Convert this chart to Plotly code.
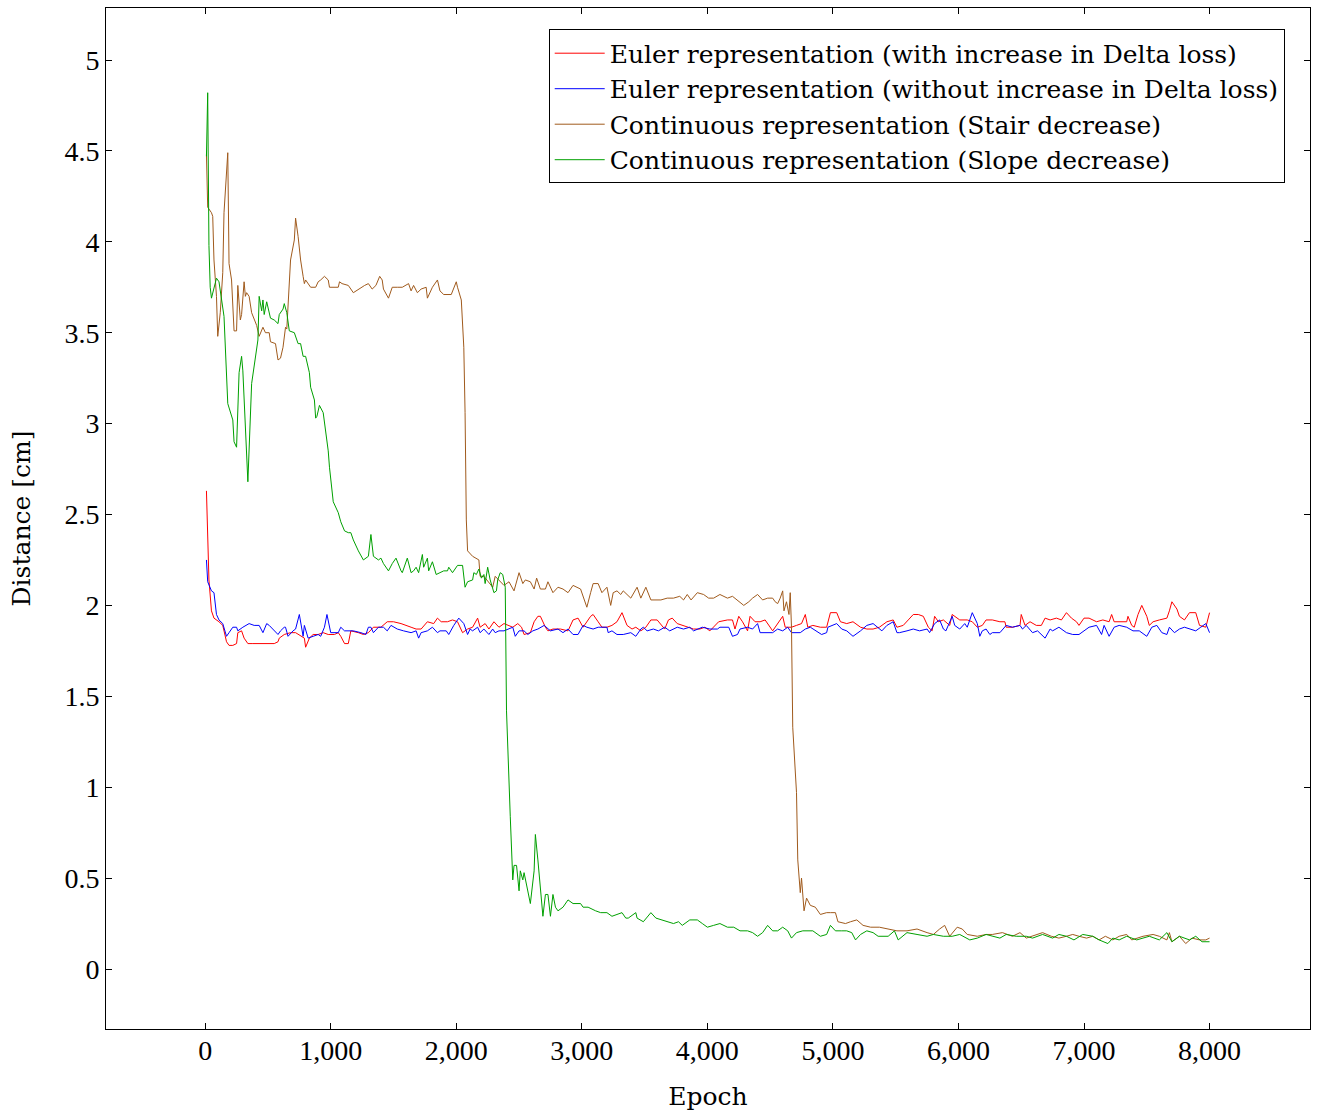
import plotly.graph_objects as go

# ---------------- data ----------------
green_x = [10, 20, 30, 40, 50, 90, 110, 140, 150, 180, 220, 230, 250, 270, 290, 300, 340, 370, 420, 430, 450, 460, 470, 490, 520, 550, 580, 590, 620, 630, 650, 670, 710, 740, 760, 780, 800, 830, 840, 870, 880, 890, 910, 940, 980, 990, 1020, 1060, 1080, 1110, 1140, 1160, 1180, 1220, 1260, 1300, 1310, 1320, 1340, 1380, 1400, 1420, 1460, 1490, 1520, 1530, 1560, 1570, 1610, 1640, 1660, 1680, 1700, 1730, 1740, 1770, 1780, 1810, 1840, 1870, 1900, 1930, 1940, 1970, 2010, 2050, 2070, 2090, 2130, 2140, 2160, 2180, 2200, 2220, 2230, 2250, 2270, 2300, 2320, 2330, 2350, 2370, 2380, 2390, 2400, 2420, 2430, 2450, 2460, 2480, 2500, 2510, 2530, 2540, 2590, 2620, 2630, 2650, 2690, 2710, 2730, 2750, 2770, 2790, 2810, 2850, 2890, 2930, 2990, 3010, 3050, 3110, 3150, 3200, 3240, 3280, 3320, 3350, 3370, 3430, 3440, 3490, 3550, 3590, 3640, 3690, 3730, 3770, 3800, 3860, 3920, 3960, 4000, 4050, 4100, 4160, 4210, 4260, 4320, 4360, 4400, 4440, 4480, 4520, 4560, 4600, 4640, 4670, 4710, 4760, 4800, 4840, 4900, 4950, 4980, 5020, 5070, 5110, 5150, 5180, 5220, 5270, 5320, 5360, 5440, 5490, 5520, 5590, 5670, 5750, 5800, 5880, 5950, 6010, 6090, 6150, 6220, 6270, 6330, 6380, 6460, 6540, 6590, 6670, 6750, 6800, 6860, 6920, 6990, 7070, 7120, 7190, 7230, 7280, 7340, 7420, 7470, 7520, 7600, 7660, 7700, 7760, 7840, 7890, 7940, 8000]
green_y = [4.47, 4.82, 3.98, 3.75, 3.69, 3.80, 3.78, 3.64, 3.59, 3.11, 3.02, 2.90, 2.87, 3.28, 3.37, 3.29, 2.68, 3.22, 3.46, 3.70, 3.62, 3.68, 3.60, 3.67, 3.58, 3.57, 3.55, 3.60, 3.63, 3.66, 3.61, 3.51, 3.50, 3.44, 3.44, 3.37, 3.37, 3.28, 3.20, 3.13, 3.03, 3.04, 3.10, 3.06, 2.85, 2.76, 2.57, 2.51, 2.46, 2.41, 2.40, 2.40, 2.36, 2.30, 2.25, 2.27, 2.34, 2.39, 2.27, 2.25, 2.26, 2.23, 2.19, 2.23, 2.26, 2.24, 2.19, 2.18, 2.26, 2.18, 2.19, 2.21, 2.18, 2.28, 2.21, 2.26, 2.19, 2.24, 2.17, 2.18, 2.19, 2.19, 2.21, 2.18, 2.22, 2.22, 2.10, 2.13, 2.14, 2.18, 2.17, 2.20, 2.15, 2.17, 2.12, 2.21, 2.14, 2.07, 2.08, 2.14, 2.18, 2.17, 2.14, 2.10, 1.42, 0.97, 0.84, 0.49, 0.57, 0.57, 0.43, 0.54, 0.49, 0.53, 0.36, 0.54, 0.74, 0.60, 0.29, 0.41, 0.41, 0.29, 0.41, 0.34, 0.32, 0.34, 0.38, 0.36, 0.36, 0.34, 0.34, 0.32, 0.31, 0.31, 0.29, 0.30, 0.31, 0.28, 0.28, 0.31, 0.28, 0.26, 0.31, 0.28, 0.27, 0.26, 0.25, 0.26, 0.24, 0.27, 0.27, 0.25, 0.23, 0.24, 0.25, 0.23, 0.23, 0.21, 0.21, 0.20, 0.18, 0.20, 0.24, 0.21, 0.21, 0.23, 0.21, 0.17, 0.20, 0.21, 0.21, 0.21, 0.18, 0.19, 0.24, 0.21, 0.21, 0.21, 0.20, 0.16, 0.19, 0.21, 0.20, 0.18, 0.18, 0.21, 0.16, 0.20, 0.19, 0.18, 0.19, 0.18, 0.18, 0.19, 0.16, 0.17, 0.19, 0.18, 0.17, 0.19, 0.18, 0.18, 0.17, 0.19, 0.17, 0.19, 0.18, 0.16, 0.19, 0.18, 0.16, 0.14, 0.17, 0.16, 0.18, 0.16, 0.17, 0.18, 0.16, 0.20, 0.15, 0.18, 0.16, 0.18, 0.15, 0.15]

brown_x = [10, 20, 50, 60, 70, 90, 100, 120, 140, 150, 180, 190, 210, 220, 230, 250, 260, 280, 290, 310, 320, 330, 350, 370, 390, 410, 430, 460, 480, 510, 520, 560, 580, 600, 620, 640, 650, 670, 680, 710, 720, 740, 760, 780, 790, 800, 820, 840, 880, 900, 920, 950, 980, 990, 1060, 1070, 1090, 1140, 1180, 1240, 1270, 1300, 1330, 1360, 1390, 1410, 1420, 1460, 1490, 1530, 1570, 1620, 1640, 1660, 1690, 1720, 1760, 1770, 1810, 1850, 1870, 1900, 1960, 2000, 2010, 2040, 2060, 2070, 2080, 2090, 2130, 2180, 2190, 2220, 2290, 2310, 2340, 2380, 2420, 2460, 2500, 2530, 2550, 2590, 2620, 2640, 2670, 2710, 2730, 2770, 2810, 2850, 2890, 2930, 2990, 3010, 3040, 3070, 3090, 3130, 3160, 3200, 3230, 3250, 3280, 3310, 3330, 3390, 3440, 3470, 3510, 3550, 3630, 3680, 3730, 3780, 3810, 3840, 3870, 3920, 3970, 4010, 4050, 4100, 4160, 4200, 4250, 4290, 4330, 4360, 4400, 4440, 4480, 4520, 4540, 4560, 4580, 4600, 4610, 4630, 4650, 4660, 4670, 4680, 4710, 4720, 4740, 4750, 4770, 4790, 4820, 4860, 4900, 4950, 4980, 5020, 5040, 5100, 5140, 5190, 5240, 5300, 5370, 5430, 5510, 5590, 5670, 5750, 5800, 5850, 5890, 5930, 5990, 6030, 6070, 6150, 6220, 6270, 6350, 6430, 6490, 6540, 6590, 6670, 6740, 6800, 6860, 6910, 6960, 7020, 7070, 7120, 7170, 7230, 7280, 7340, 7380, 7420, 7470, 7550, 7600, 7660, 7680, 7700, 7760, 7810, 7860, 7920, 7970, 8000]
brown_y = [4.48, 4.19, 4.16, 4.14, 3.90, 3.70, 3.48, 3.61, 3.83, 4.16, 4.49, 3.88, 3.79, 3.68, 3.51, 3.51, 3.76, 3.57, 3.60, 3.78, 3.70, 3.72, 3.70, 3.61, 3.57, 3.54, 3.48, 3.53, 3.50, 3.50, 3.45, 3.44, 3.35, 3.36, 3.42, 3.53, 3.52, 3.75, 3.90, 4.01, 4.13, 4.03, 3.90, 3.81, 3.77, 3.79, 3.77, 3.75, 3.75, 3.78, 3.79, 3.81, 3.79, 3.75, 3.75, 3.78, 3.77, 3.76, 3.72, 3.75, 3.76, 3.77, 3.74, 3.76, 3.81, 3.79, 3.74, 3.69, 3.75, 3.75, 3.75, 3.77, 3.73, 3.76, 3.72, 3.74, 3.75, 3.69, 3.75, 3.79, 3.73, 3.71, 3.71, 3.78, 3.75, 3.68, 3.42, 3.06, 2.47, 2.30, 2.27, 2.25, 2.16, 2.16, 2.10, 2.16, 2.14, 2.11, 2.13, 2.08, 2.18, 2.12, 2.14, 2.13, 2.09, 2.15, 2.09, 2.09, 2.13, 2.07, 2.10, 2.09, 2.07, 2.11, 2.09, 2.05, 1.99, 2.07, 2.12, 2.12, 2.07, 2.10, 2.00, 2.07, 2.08, 2.06, 2.08, 2.04, 2.10, 2.04, 2.10, 2.03, 2.03, 2.04, 2.04, 2.05, 2.03, 2.06, 2.03, 2.07, 2.06, 2.04, 2.04, 2.06, 2.04, 2.05, 2.02, 2.00, 2.02, 2.04, 2.06, 2.03, 2.04, 2.04, 2.02, 2.01, 2.04, 2.08, 1.97, 2.02, 1.95, 2.07, 1.88, 1.33, 0.97, 0.60, 0.42, 0.50, 0.32, 0.39, 0.35, 0.34, 0.30, 0.31, 0.31, 0.31, 0.26, 0.25, 0.26, 0.27, 0.24, 0.23, 0.23, 0.22, 0.21, 0.21, 0.22, 0.20, 0.19, 0.22, 0.24, 0.18, 0.23, 0.22, 0.19, 0.18, 0.19, 0.19, 0.20, 0.18, 0.20, 0.17, 0.18, 0.20, 0.18, 0.17, 0.18, 0.19, 0.18, 0.17, 0.18, 0.16, 0.18, 0.16, 0.18, 0.19, 0.16, 0.17, 0.18, 0.19, 0.18, 0.16, 0.20, 0.15, 0.18, 0.14, 0.17, 0.16, 0.16, 0.17]

red_x = [10, 30, 50, 70, 110, 140, 170, 190, 220, 250, 260, 290, 310, 340, 380, 430, 490, 550, 580, 590, 630, 680, 720, 760, 790, 800, 830, 860, 900, 940, 980, 1030, 1060, 1080, 1110, 1140, 1160, 1220, 1260, 1300, 1340, 1400, 1450, 1500, 1560, 1640, 1680, 1720, 1770, 1820, 1850, 1880, 1930, 1970, 2010, 2050, 2090, 2130, 2170, 2190, 2230, 2260, 2300, 2340, 2380, 2450, 2490, 2520, 2540, 2590, 2620, 2650, 2670, 2710, 2730, 2770, 2830, 2890, 2930, 2970, 3010, 3070, 3090, 3130, 3160, 3200, 3240, 3280, 3320, 3360, 3400, 3430, 3470, 3510, 3550, 3600, 3640, 3660, 3690, 3720, 3760, 3810, 3850, 3890, 3940, 3980, 4020, 4050, 4090, 4160, 4200, 4220, 4250, 4280, 4320, 4340, 4380, 4420, 4460, 4520, 4600, 4620, 4670, 4710, 4750, 4780, 4800, 4840, 4900, 4950, 4980, 5030, 5060, 5110, 5160, 5220, 5270, 5320, 5370, 5430, 5480, 5510, 5560, 5600, 5640, 5680, 5720, 5760, 5790, 5810, 5840, 5880, 5930, 5950, 6010, 6070, 6110, 6150, 6190, 6220, 6270, 6330, 6370, 6380, 6430, 6490, 6500, 6530, 6570, 6620, 6660, 6690, 6730, 6780, 6820, 6860, 6900, 6940, 6960, 7000, 7040, 7100, 7150, 7200, 7220, 7240, 7280, 7340, 7350, 7380, 7400, 7430, 7460, 7500, 7520, 7550, 7600, 7660, 7680, 7700, 7740, 7760, 7800, 7840, 7890, 7920, 7970, 8000]
red_y = [2.63, 2.14, 1.97, 1.93, 1.91, 1.89, 1.80, 1.78, 1.78, 1.79, 1.85, 1.86, 1.82, 1.79, 1.79, 1.79, 1.79, 1.79, 1.80, 1.82, 1.84, 1.85, 1.85, 1.83, 1.82, 1.77, 1.82, 1.84, 1.84, 1.85, 1.84, 1.84, 1.85, 1.83, 1.79, 1.79, 1.86, 1.85, 1.84, 1.85, 1.88, 1.88, 1.91, 1.91, 1.90, 1.88, 1.87, 1.87, 1.91, 1.90, 1.93, 1.91, 1.91, 1.92, 1.91, 1.85, 1.87, 1.88, 1.93, 1.88, 1.90, 1.87, 1.91, 1.88, 1.90, 1.88, 1.90, 1.88, 1.84, 1.85, 1.91, 1.94, 1.94, 1.88, 1.86, 1.87, 1.87, 1.86, 1.92, 1.93, 1.88, 1.94, 1.95, 1.91, 1.88, 1.88, 1.89, 1.91, 1.96, 1.89, 1.87, 1.88, 1.86, 1.88, 1.92, 1.92, 1.89, 1.87, 1.92, 1.93, 1.90, 1.89, 1.88, 1.87, 1.87, 1.88, 1.86, 1.88, 1.91, 1.92, 1.92, 1.87, 1.94, 1.91, 1.86, 1.94, 1.91, 1.91, 1.92, 1.86, 1.94, 1.88, 1.88, 1.89, 1.90, 1.95, 1.88, 1.89, 1.88, 1.88, 1.96, 1.96, 1.91, 1.90, 1.91, 1.88, 1.87, 1.87, 1.88, 1.91, 1.92, 1.88, 1.89, 1.92, 1.95, 1.95, 1.94, 1.88, 1.86, 1.94, 1.91, 1.92, 1.89, 1.95, 1.92, 1.92, 1.91, 1.88, 1.89, 1.92, 1.92, 1.91, 1.91, 1.88, 1.88, 1.89, 1.95, 1.89, 1.91, 1.89, 1.89, 1.93, 1.92, 1.93, 1.92, 1.96, 1.93, 1.91, 1.89, 1.93, 1.93, 1.91, 1.92, 1.91, 1.95, 1.91, 1.91, 1.91, 1.94, 1.89, 1.88, 1.95, 2.00, 1.94, 1.89, 1.91, 1.92, 1.93, 1.97, 2.02, 1.98, 1.94, 1.92, 1.96, 1.96, 1.89, 1.88, 1.96]

blue_x = [10, 20, 50, 70, 90, 110, 140, 150, 170, 190, 220, 250, 260, 300, 350, 390, 430, 460, 490, 510, 540, 580, 600, 630, 640, 660, 700, 720, 750, 780, 790, 820, 860, 900, 920, 950, 970, 990, 1000, 1060, 1080, 1110, 1140, 1180, 1240, 1280, 1300, 1320, 1340, 1380, 1420, 1450, 1480, 1530, 1580, 1640, 1680, 1700, 1720, 1770, 1810, 1850, 1870, 1920, 1940, 1980, 2020, 2060, 2090, 2110, 2130, 2170, 2190, 2220, 2260, 2290, 2310, 2340, 2380, 2450, 2470, 2500, 2540, 2570, 2610, 2650, 2700, 2750, 2810, 2850, 2890, 2930, 2970, 3010, 3040, 3090, 3130, 3160, 3200, 3210, 3240, 3280, 3330, 3390, 3430, 3470, 3490, 3520, 3570, 3610, 3660, 3700, 3760, 3810, 3860, 3890, 3960, 4020, 4080, 4100, 4170, 4200, 4240, 4260, 4320, 4360, 4400, 4420, 4480, 4520, 4560, 4600, 4640, 4670, 4740, 4780, 4820, 4870, 4910, 4950, 4960, 5030, 5070, 5110, 5140, 5160, 5220, 5270, 5320, 5360, 5390, 5430, 5480, 5510, 5530, 5590, 5640, 5690, 5750, 5770, 5810, 5850, 5880, 5900, 5950, 5970, 6010, 6050, 6070, 6110, 6150, 6170, 6190, 6220, 6250, 6270, 6330, 6380, 6430, 6490, 6510, 6540, 6590, 6630, 6690, 6730, 6750, 6800, 6860, 6910, 6960, 7040, 7100, 7140, 7160, 7200, 7240, 7280, 7340, 7390, 7440, 7500, 7540, 7580, 7620, 7660, 7680, 7720, 7760, 7800, 7840, 7890, 7930, 7970, 8000]
blue_y = [2.25, 2.13, 2.08, 2.07, 1.95, 1.92, 1.90, 1.88, 1.83, 1.85, 1.88, 1.88, 1.86, 1.88, 1.90, 1.89, 1.89, 1.85, 1.90, 1.89, 1.87, 1.84, 1.86, 1.88, 1.88, 1.83, 1.86, 1.87, 1.95, 1.83, 1.89, 1.82, 1.83, 1.84, 1.83, 1.88, 1.95, 1.87, 1.85, 1.85, 1.88, 1.86, 1.86, 1.86, 1.85, 1.84, 1.88, 1.88, 1.85, 1.88, 1.88, 1.86, 1.89, 1.87, 1.86, 1.85, 1.86, 1.82, 1.85, 1.86, 1.88, 1.85, 1.86, 1.86, 1.84, 1.89, 1.93, 1.90, 1.84, 1.87, 1.86, 1.88, 1.85, 1.87, 1.84, 1.87, 1.85, 1.86, 1.86, 1.88, 1.83, 1.86, 1.86, 1.84, 1.86, 1.87, 1.89, 1.86, 1.87, 1.85, 1.87, 1.84, 1.84, 1.89, 1.88, 1.87, 1.88, 1.88, 1.88, 1.85, 1.86, 1.84, 1.84, 1.85, 1.83, 1.87, 1.88, 1.86, 1.87, 1.86, 1.88, 1.86, 1.88, 1.87, 1.88, 1.86, 1.88, 1.87, 1.87, 1.88, 1.88, 1.83, 1.84, 1.87, 1.88, 1.87, 1.90, 1.85, 1.85, 1.85, 1.87, 1.86, 1.88, 1.85, 1.85, 1.87, 1.88, 1.86, 1.84, 1.85, 1.88, 1.90, 1.87, 1.86, 1.84, 1.83, 1.86, 1.89, 1.90, 1.88, 1.86, 1.89, 1.91, 1.85, 1.85, 1.86, 1.87, 1.86, 1.87, 1.85, 1.90, 1.92, 1.87, 1.86, 1.94, 1.89, 1.87, 1.90, 1.88, 1.96, 1.90, 1.83, 1.86, 1.87, 1.84, 1.85, 1.85, 1.89, 1.88, 1.89, 1.87, 1.89, 1.85, 1.86, 1.82, 1.87, 1.86, 1.88, 1.85, 1.84, 1.84, 1.88, 1.89, 1.84, 1.89, 1.83, 1.88, 1.89, 1.88, 1.86, 1.86, 1.83, 1.88, 1.89, 1.85, 1.84, 1.88, 1.85, 1.87, 1.88, 1.87, 1.86, 1.88, 1.90, 1.85]

series_names = [
    "Euler representation (with increase in Delta loss)",
    "Euler representation (without increase in Delta loss)",
    "Continuous representation (Stair decrease)",
    "Continuous representation (Slope decrease)",
]
x_ticks = [0, 1000, 2000, 3000, 4000, 5000, 6000, 7000, 8000]
y_ticks = [0, 0.5, 1, 1.5, 2, 2.5, 3, 3.5, 4, 4.5, 5]
y_tick_labels = ["0", "0.5", "1", "1.5", "2", "2.5", "3", "3.5", "4", "4.5", "5"]

# ---------------- figure ----------------
colors = ["#ff0000", "#0000ff", "#a05a1c", "#00a000"]
xs = [red_x, blue_x, brown_x, green_x]
ys = [red_y, blue_y, brown_y, green_y]

fig = go.Figure()
for name, x, y, c in zip(series_names, xs, ys, colors):
    fig.add_trace(go.Scatter(x=x, y=y, mode="lines", name=name,
                             line=dict(color=c, width=1)))

tick_font = "Liberation Serif"
text_font = "DejaVu Serif"
axis_common = dict(
    showline=True, linecolor="black", linewidth=1, mirror="allticks",
    ticks="inside", ticklen=6, tickcolor="black", tickwidth=1,
    showgrid=False, zeroline=False,
    tickfont=dict(family=tick_font, size=28, color="black"),
)
fig.update_layout(
    width=1317, height=1113,
    margin=dict(l=106, r=7, t=8, b=84),
    paper_bgcolor="white", plot_bgcolor="white",
    xaxis=dict(range=[-790, 8800], tickvals=x_ticks, tickformat=",d",
               ticklabelstandoff=-4,
               title=dict(text="Epoch", font=dict(family=text_font, size=25, color="black"), standoff=22),
               **axis_common),
    yaxis=dict(range=[-0.33, 5.286], tickvals=y_ticks, ticktext=y_tick_labels,
               title=dict(text="Distance [cm]", font=dict(family=text_font, size=25, color="black"), standoff=26),
               **axis_common),
    legend=dict(x=0.979, y=0.979, xanchor="right", yanchor="top",
                bgcolor="white", bordercolor="black", borderwidth=1,
                font=dict(family=text_font, size=25, color="black"),
                tracegroupgap=0, itemwidth=50),
    showlegend=True,
)
fig.write_html("out.html")
